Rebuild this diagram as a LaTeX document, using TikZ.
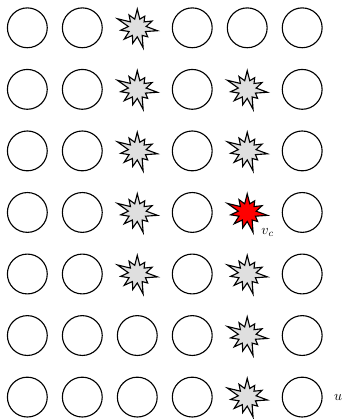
\documentclass[tikz,border=0pt]{standalone}
\usetikzlibrary{shapes.symbols,positioning}
\tikzset{
  vtx/.style={circle, draw, thick, minimum size=1cm, inner sep=0pt},
  hit/.style={starburst, draw, thick, fill=gray!25, inner sep=0.16cm,
              starburst points=11, starburst point height=0.34cm},
}
\begin{document}
\begin{tikzpicture}[x=1.38cm, y=-1.545cm]
  \useasboundingbox (-0.686cm,0.698cm) rectangle (7.955cm,-9.82cm);
  % Plain vertices
  \foreach \r in {0,...,6}
    \foreach \c in {0,1,3,5}
      \node[vtx] (n-\c-\r) at (\c,\r) {};
  \foreach \r in {5,6} \node[vtx] (n-2-\r) at (2,\r) {};
  \node[vtx] (n-4-0) at (4,0) {};
  % Hit vertices
  \foreach \r in {0,...,4} \node[hit] (n-2-\r) at (2,\r) {};
  \foreach \r in {1,2,4,5,6} \node[hit] (n-4-\r) at (4,\r) {};
  \node[hit, fill=red] (n-4-3) at (4,3) {};
  % Labels
  \node[below right=0.05cm and 0cm of n-4-3] (vc) {$v_c$};
  \node[right=0.16cm of n-5-6] (u) {$u$};
\end{tikzpicture}
\end{document}
